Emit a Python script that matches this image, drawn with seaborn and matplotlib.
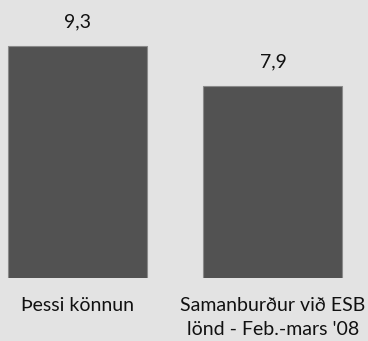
import matplotlib
matplotlib.use("Agg")
import matplotlib.pyplot as plt
import seaborn as sns
import pandas as pd

# gögn
flokkar = ["Þessi könnun", "Samanburður við ESB\nlönd - Feb.-mars '08"]
gildi = [9.3, 7.9]
merki = ["9,3", "7,9"]

bakgrunnur = "#e3e3e3"
sulu_litur = "#525252"

sns.set_style("white")
plt.rcParams['font.family'] = ['Lato', 'DejaVu Sans']

df = pd.DataFrame({"flokkur": flokkar, "gildi": gildi})

fig = plt.figure(figsize=(3.68, 3.41), dpi=100, facecolor=bakgrunnur)
ax = fig.add_axes([0, 63 / 341, 1, 278 / 341])
ax.set_facecolor(bakgrunnur)

sns.barplot(data=df, x="flokkur", y="gildi", color=sulu_litur, width=0.711,
            edgecolor="#8a8a8a", linewidth=0.8, saturation=1, ax=ax)

ax.set_xlim(-0.396, 1.486)
ax.set_ylim(1.2, 10.906)

for i, (v, m) in enumerate(zip(gildi, merki)):
    ax.annotate(m, (i, v), xytext=(0, 11.5), textcoords="offset points",
                ha="center", va="bottom", fontsize=14, color="#111111")

ax.set_xticks(range(len(flokkar)))
ax.set_xticklabels(flokkar, fontsize=14, linespacing=1.45, color="#111111")
ax.tick_params(axis="x", length=0, pad=14)
ax.set_yticks([])
ax.set_xlabel("")
ax.set_ylabel("")
sns.despine(ax=ax, left=True, bottom=True)

fig.savefig("out.png", dpi=100, facecolor=bakgrunnur)
